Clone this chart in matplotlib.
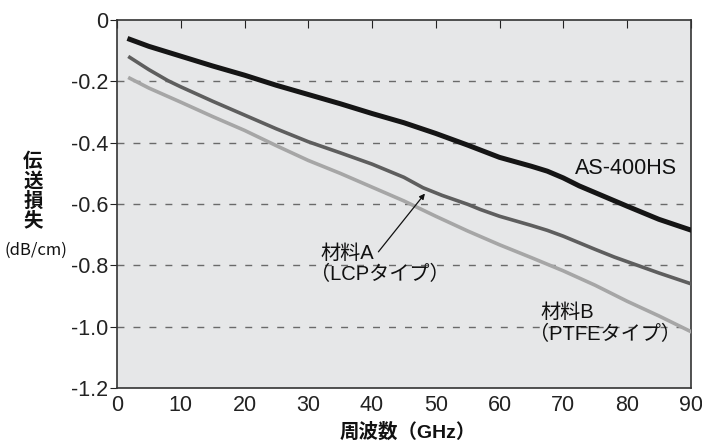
import matplotlib
matplotlib.use("Agg")
import matplotlib.pyplot as plt

plt.rcParams['font.family'] = ['Liberation Sans', 'Noto Sans CJK JP', 'DejaVu Sans']

freq_as = [2, 5, 10, 15, 20, 25, 30, 35, 40, 45, 50, 55, 57, 60, 65, 67.5, 70, 72.5, 75, 80, 85, 90]
loss_as = [-0.063, -0.086, -0.118, -0.150, -0.180, -0.213, -0.243, -0.273, -0.305, -0.335,
           -0.370, -0.408, -0.424, -0.448, -0.477, -0.493, -0.515, -0.541, -0.563, -0.607,
           -0.650, -0.685]

freq_a = [2, 5, 8, 10, 15, 20, 25, 30, 35, 40, 45, 48, 51, 55, 57, 60, 65, 67.5, 70, 75, 78, 85, 90]
loss_a = [-0.122, -0.162, -0.198, -0.218, -0.265, -0.310, -0.355, -0.397, -0.433, -0.470,
          -0.513, -0.547, -0.572, -0.601, -0.618, -0.640, -0.670, -0.686, -0.705, -0.748,
          -0.773, -0.825, -0.860]

freq_b = [2, 5, 10, 15, 20, 25, 30, 35, 40, 45, 50, 55, 60, 65, 70, 75, 80, 85, 90]
loss_b = [-0.190, -0.222, -0.268, -0.315, -0.360, -0.410, -0.458, -0.500, -0.545, -0.590,
          -0.640, -0.688, -0.733, -0.775, -0.818, -0.865, -0.917, -0.965, -1.016]

xticks = [0, 10, 20, 30, 40, 50, 60, 70, 80, 90]
yticks = [0, -0.2, -0.4, -0.6, -0.8, -1.0, -1.2]
ytick_labels = ['0', '-0.2', '-0.4', '-0.6', '-0.8', '-1.0', '-1.2']

fig = plt.figure(figsize=(7.02, 4.42), dpi=100)
ax = fig.add_axes([0.1667, 0.1222, 0.8173, 0.8326])
ax.set_facecolor('#e6e7e8')

for y in yticks[1:-1]:
    ax.axhline(y, color='#6a6a6a', lw=1.0, ls=(0, (5, 6.5)), zorder=1)

ax.plot(freq_b, loss_b, color='#a6a6a6', lw=2.6, zorder=3)
ax.plot(freq_a, loss_a, color='#5e5e5e', lw=2.6, zorder=3)
ax.plot(freq_as, loss_as, color='#151515', lw=3.6, zorder=4)

ax.set_xlim(0, 90)
ax.set_ylim(-1.2, 0)
ax.set_xticks(xticks)
ax.set_xticklabels([str(v) for v in xticks])
ax.set_yticks(yticks)
ax.set_yticklabels(ytick_labels)
ax.tick_params(axis='x', bottom=False, top=True, direction='in', length=6,
               labelbottom=True, labelsize=15.5, colors='#222222', pad=5)
ax.tick_params(axis='y', direction='out', length=5, labelsize=15.5, colors='#222222', pad=1.5)
for s in ax.spines.values():
    s.set_color('#333333')
    s.set_linewidth(1.2)

ax.text(87.9, -0.483, 'AS-400HS', fontsize=15.5, ha='right', va='center', color='#111111')
ax.text(31.9, -0.760, '材料A', fontsize=14.5, ha='left', va='center', color='#111111')
ax.text(30.2, -0.831, '（LCPタイプ）', fontsize=14.5, ha='left', va='center', color='#111111')
ax.text(66.4, -0.955, '材料B', fontsize=14.5, ha='left', va='center', color='#111111')
ax.text(64.7, -1.027, '（PTFEタイプ）', fontsize=14.5, ha='left', va='center', color='#111111')
ax.annotate('', xy=(48.3, -0.566), xytext=(41.0, -0.756),
            arrowprops=dict(arrowstyle='-|>', color='#111111', lw=0.9,
                            mutation_scale=8, shrinkA=0, shrinkB=0))

fig.text(408 / 702, 1 - 432 / 442, '周波数（GHz）', fontsize=14, ha='center', va='center',
         fontweight='bold', color='#111111')
for i, ch in enumerate('伝送損失'):
    fig.text(33 / 702, 1 - (162 + 19.7 * i) / 442, ch, fontsize=14, ha='center', va='center',
             fontweight='bold', color='#111111')
fig.text(36 / 702, 1 - 250 / 442, '(dB/cm)', fontsize=12, ha='center', va='center',
         color='#111111', family=['Noto Sans CJK JP'])

fig.savefig('out.png', dpi=100)
